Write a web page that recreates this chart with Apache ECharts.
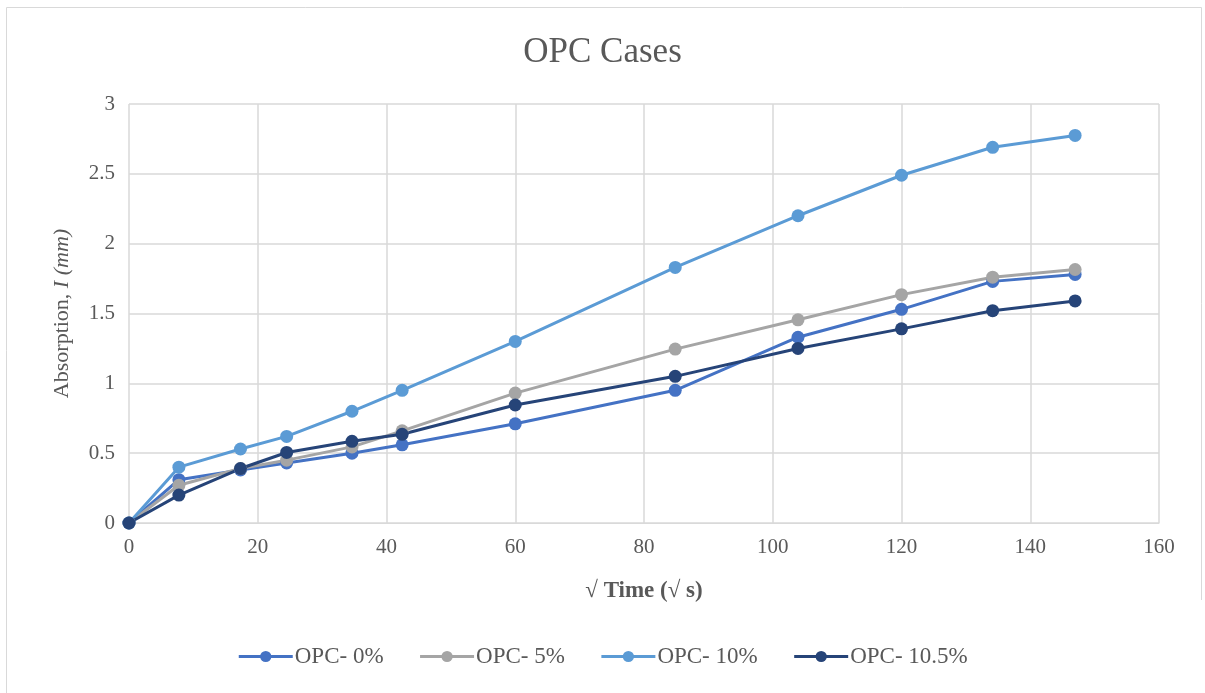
<!DOCTYPE html>
<html>
<head>
<meta charset="utf-8">
<title>OPC Cases</title>
<script src="https://cdn.jsdelivr.net/npm/echarts@6/dist/echarts.min.js"></script>
<style>
  html, body { margin: 0; padding: 0; background: #fff; }
  #chart { width: 1205px; height: 693px; }
</style>
</head>
<body>
<div id="chart"></div>
<script>
// √time (√s) for each reading
const rootTime = [0, 7.75, 17.32, 24.49, 34.64, 42.43, 60, 84.85, 103.92, 120, 134.16, 146.97]

const opc0 = [0, 0.31, 0.38, 0.43, 0.50, 0.56, 0.71, 0.95, 1.33, 1.53, 1.73, 1.78]
const opc5 = [0, 0.27, 0.39, 0.45, 0.545, 0.66, 0.93, 1.245, 1.455, 1.635, 1.76, 1.815]
const opc10 = [0, 0.40, 0.53, 0.62, 0.80, 0.95, 1.30, 1.83, 2.20, 2.49, 2.69, 2.775]
const opc105 = [0, 0.20, 0.39, 0.505, 0.585, 0.635, 0.845, 1.05, 1.25, 1.39, 1.52, 1.59]

const seriesNames = ['OPC- 0%', 'OPC- 5%', 'OPC- 10%', 'OPC- 10.5%']
const seriesColors = ['#4472C4', '#A5A5A5', '#5B9BD5', '#264478']

const font = '"Liberation Serif", "Times New Roman", serif'

function pairs(ys) {
  return rootTime.map((x, i) => [x, ys[i]])
}

const chart = echarts.init(document.getElementById('chart'))

chart.setOption({
  animation: false,
  color: seriesColors,
  textStyle: { fontFamily: font },
  title: {
    text: 'OPC Cases',
    left: 'center',
    top: 30,
    textStyle: { fontFamily: font, fontSize: 35, fontWeight: 'normal', color: '#595959' }
  },
  graphic: [{
    type: 'polyline',
    shape: { points: [[6.5, 693], [6.5, 7.5], [1201.5, 7.5], [1201.5, 600]] },
    style: { stroke: '#D9D9D9', lineWidth: 1, fill: null }
  }],
  legend: {
    bottom: 20,
    left: 'center',
    itemWidth: 54,
    itemHeight: 14,
    itemGap: 35,
    lineStyle: { width: 3 },
    textStyle: { fontFamily: font, fontSize: 23, color: '#595959', padding: [0, 0, 0, -3] },
    data: seriesNames
  },
  grid: { left: 129, right: 46, top: 104, bottom: 170 },
  xAxis: {
    type: 'value',
    min: 0,
    max: 160,
    interval: 20,
    name: '√ Time (√ s)',
    nameLocation: 'middle',
    nameGap: 57,
    nameTextStyle: { fontFamily: font, fontSize: 23, fontWeight: 'bold', color: '#595959' },
    axisLine: { show: true, lineStyle: { color: '#D9D9D9', width: 1 } },
    axisTick: { show: false },
    axisLabel: { fontFamily: font, fontSize: 21, color: '#595959', margin: 14 },
    splitLine: { show: true, lineStyle: { color: '#D9D9D9', width: 1.5 } }
  },
  yAxis: {
    type: 'value',
    min: 0,
    max: 3,
    interval: 0.5,
    name: 'Absorption, {i|I (mm)}',
    nameLocation: 'middle',
    nameRotate: 90,
    nameGap: 56,
    nameTextStyle: {
      fontFamily: font, fontSize: 22, color: '#595959',
      rich: { i: { fontFamily: font, fontSize: 22, fontStyle: 'italic', color: '#595959' } }
    },
    axisLine: { show: false },
    axisTick: { show: false },
    axisLabel: { fontFamily: font, fontSize: 21, color: '#595959', margin: 14 },
    splitLine: { show: true, lineStyle: { color: '#D9D9D9', width: 1.5 } }
  },
  series: [opc0, opc5, opc10, opc105].map((ys, i) => ({
    name: seriesNames[i],
    type: 'line',
    data: pairs(ys),
    symbol: 'circle',
    symbolSize: 13,
    lineStyle: { width: 3, color: seriesColors[i] },
    itemStyle: { color: seriesColors[i] }
  }))
})
</script>
</body>
</html>
